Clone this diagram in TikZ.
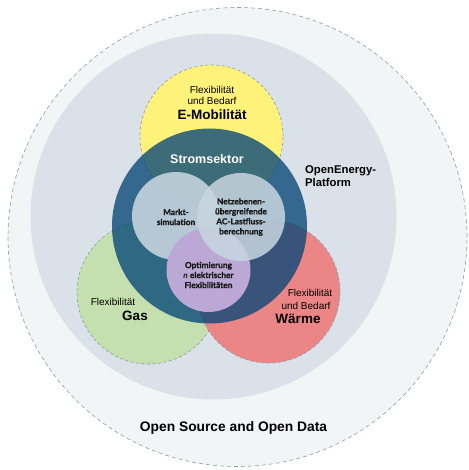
\documentclass[tikz,border=0pt]{standalone}
\usepackage{fontspec}
\setmainfont{Liberation Sans}
\newfontfamily\latofont{Lato}[BoldFeatures={FakeBold=1.2}]
\definecolor{outerring}{HTML}{F1F5F6}
\definecolor{platform}{HTML}{DAE1E8}
\definecolor{dashgray}{HTML}{8A9EA6}
\definecolor{emob}{HTML}{FFF27A}
\definecolor{gas}{HTML}{C5E0AE}
\definecolor{waerme}{HTML}{EC8585}
\definecolor{strom}{HTML}{064777}
\definecolor{modul}{HTML}{C8D6E0}
\definecolor{optim}{HTML}{BBA8D4}
\begin{document}
\begin{tikzpicture}[x=1pt,y=-1pt,
		sector/.style={draw=dashgray, dash pattern=on 3pt off 2.5pt, line width=0.6pt},
		small/.style={font=\fontsize{10}{12.5}\selectfont, align=center, inner sep=0pt},
		big/.style={font=\fontsize{13.5}{15}\selectfont\bfseries, inner sep=0pt},
		modtext/.style={font=\latofont\bfseries\fontsize{8.3}{10}\selectfont, align=center, text=black!90, inner sep=0pt}]
	\useasboundingbox (0,0) rectangle (468,470);
	% open source ring and platform
	\fill [outerring] (237.5,237) circle (229.5pt);
	\draw [dashgray, dash pattern=on 4pt off 3pt, line width=0.6pt] (237.5,237) circle (229.5pt);
	\fill [platform] (213.5,216.5) circle (183pt);
	% sectors
	\filldraw [sector, fill=emob] (211.5,136.5) circle (71.5pt);
	\filldraw [sector, fill=gas] (148.5,292.5) circle (71.5pt);
	\filldraw [sector, fill=waerme] (268.5,291.5) circle (71.5pt);
	% power sector on top
	\fill [strom, fill opacity=0.78] (209.5,226) circle (97.5pt);
	% modules
	\fill [modul, fill opacity=0.88] (176,216) circle (44pt);
	\fill [optim] (208.5,270) circle (42pt);
	\fill [modul, fill opacity=0.85] (241,217) circle (44pt);
	% labels
	\node [small] (emobflex) at (212,90) {Flexibilität};
	\node [small] (emobbed) at (212,101) {und Bedarf};
	\node [big] (emob) at (212,115) {E-Mobilität};
	\node [big, text=white, font=\fontsize{12.5}{15}\selectfont\bfseries] (strom) at (207,159) {Stromsektor};
	\node [font=\fontsize{11.3}{13.5}\selectfont\bfseries, align=left, anchor=west, inner sep=0pt] (oep) at (305,176) {OpenEnergy-\\Platform};
	\node [modtext] (markt) at (176,217) {Markt-\\simulation};
	\node [modtext] (netz) at (241,217) {Netzebenen-\\übergreifende\\AC-Lastfluss-\\berechnung};
	\node [modtext] (optim) at (208.5,275) {Optimierung\\\textit{n} elektrischer\\Flexibilitäten};
	\node [small] (gasflex) at (113,302) {Flexibilität};
	\node [big] (gas) at (135,316) {Gas};
	\node [small] (waermeflex) at (310,293) {Flexibilität};
	\node [small] (waermebed) at (306,306) {und Bedarf};
	\node [big] (waerme) at (298,319) {Wärme};
	\node [font=\fontsize{13.8}{16}\selectfont\bfseries, inner sep=0pt] (open) at (233.5,428) {Open Source and Open Data};
\end{tikzpicture}
\end{document}
